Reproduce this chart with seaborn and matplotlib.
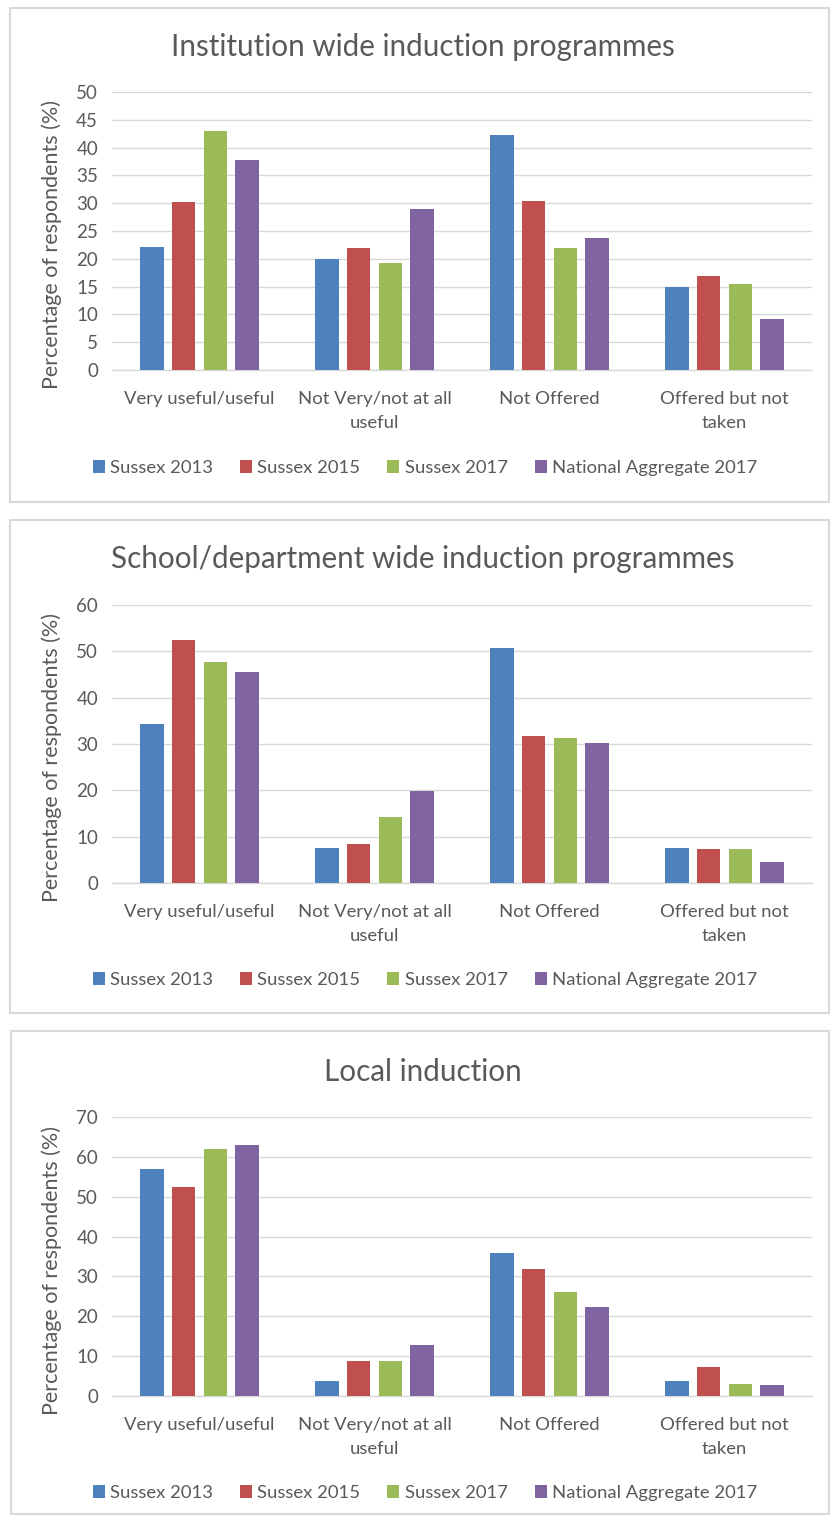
import matplotlib
matplotlib.use("Agg")
import matplotlib.pyplot as plt
from matplotlib.patches import Rectangle
import pandas as pd
import seaborn as sns

# Survey answers (x axis) and the four respondent groups (bars)
categories = ["Very useful/useful", "Not Very/not at all\nuseful",
              "Not Offered", "Offered but not\ntaken"]
series = ["Sussex 2013", "Sussex 2015", "Sussex 2017", "National Aggregate 2017"]
colors = ["#4F81BD", "#C0504D", "#9BBB59", "#8064A2"]

# Percentage of respondents, one list per group, ordered as `categories`
institution_2013 = [22.2, 19.9, 42.3, 14.9]
institution_2015 = [30.3, 21.9, 30.4, 16.9]
institution_2017 = [42.9, 19.2, 22.0, 15.4]
institution_nat = [37.8, 28.9, 23.7, 9.2]

school_2013 = [34.3, 7.5, 50.8, 7.5]
school_2015 = [52.4, 8.5, 31.8, 7.3]
school_2017 = [47.6, 14.2, 31.3, 7.3]
school_nat = [45.6, 19.9, 30.3, 4.6]

local_2013 = [56.9, 3.8, 36.0, 3.8]
local_2015 = [52.4, 8.8, 31.9, 7.3]
local_2017 = [62.0, 8.9, 26.1, 3.1]
local_nat = [63.0, 12.7, 22.3, 2.7]

titles = ["Institution wide induction programmes",
          "School/department wide induction programmes",
          "Local induction"]
y_max = [50, 60, 70]
y_step = [5, 10, 10]

panel_values = [
    [institution_2013, institution_2015, institution_2017, institution_nat],
    [school_2013, school_2015, school_2017, school_nat],
    [local_2013, local_2015, local_2017, local_nat],
]

TEXT = "#595959"
GRID = "#D9D9D9"

sns.set_theme(style="white")
plt.rcParams["font.family"] = ["Lato", "DejaVu Sans"]

W, H = 833, 1519
fig = plt.figure(figsize=(W / 100, H / 100), dpi=100)


def fx(px):
    return px / W


def fy(py):
    return 1 - py / H


# pixel layout of each panel: frame box, plot area, title line
frames = [(10, 8, 829, 502), (10, 520, 829, 1013), (11, 1031, 829, 1514)]
plot_tops = [92, 605, 1117]
plot_bottoms = [370, 883, 1396]
title_ys = [47, 559, 1072]
legend_ys = [468, 980, 1493]
plot_left, plot_right = 112, 812

for i in range(3):
    x0, y0, x1, y1 = frames[i]
    fig.patches.append(Rectangle((fx(x0), fy(y1)), fx(x1 - x0), (y1 - y0) / H,
                                 transform=fig.transFigure, fill=False,
                                 edgecolor=GRID, linewidth=1.5, zorder=0))

    ax = fig.add_axes([fx(plot_left), fy(plot_bottoms[i]),
                       fx(plot_right - plot_left),
                       (plot_bottoms[i] - plot_tops[i]) / H])

    rows = []
    for name, vals in zip(series, panel_values[i]):
        for cat, v in zip(categories, vals):
            rows.append({"category": cat, "series": name, "value": v})
    df = pd.DataFrame(rows)

    sns.barplot(data=df, x="category", y="value", hue="series",
                order=categories, hue_order=series, palette=colors,
                saturation=1, width=0.725, gap=0.26, linewidth=0,
                errorbar=None, ax=ax, zorder=3)

    ax.set_ylim(0, y_max[i])
    ax.set_yticks(range(0, y_max[i] + 1, y_step[i]))
    ax.set_xlim(-0.5, 3.5)
    ax.yaxis.grid(True, color=GRID, linewidth=1)
    ax.set_axisbelow(True)
    for side in ["top", "right", "left"]:
        ax.spines[side].set_visible(False)
    ax.spines["bottom"].set_color(GRID)
    ax.spines["bottom"].set_linewidth(1)
    ax.tick_params(axis="y", length=0, pad=10, labelsize=13.5, labelcolor=TEXT)
    ax.tick_params(axis="x", length=0, pad=15, labelsize=13.3, labelcolor=TEXT)
    for lbl in ax.get_xticklabels():
        lbl.set_linespacing(1.65)
    ax.set_xlabel("")
    ax.set_ylabel("Percentage of respondents (%)", fontsize=15.5, color=TEXT)
    ax.yaxis.set_label_coords((62 - plot_left) / (plot_right - plot_left), 0.45)

    fig.text(fx(423), fy(title_ys[i]), titles[i], ha="center", va="center",
             fontsize=21.3, color=TEXT)

    leg_y = (plot_bottoms[i] - legend_ys[i]) / (plot_bottoms[i] - plot_tops[i])
    ax.legend(loc="center", bbox_to_anchor=(0.447, leg_y), ncol=4,
              frameon=False, fontsize=13.3, labelcolor=TEXT,
              handlelength=0.65, handleheight=0.65, handletextpad=0.3,
              columnspacing=1.45)

fig.savefig("out.png", dpi=100, facecolor="white")
